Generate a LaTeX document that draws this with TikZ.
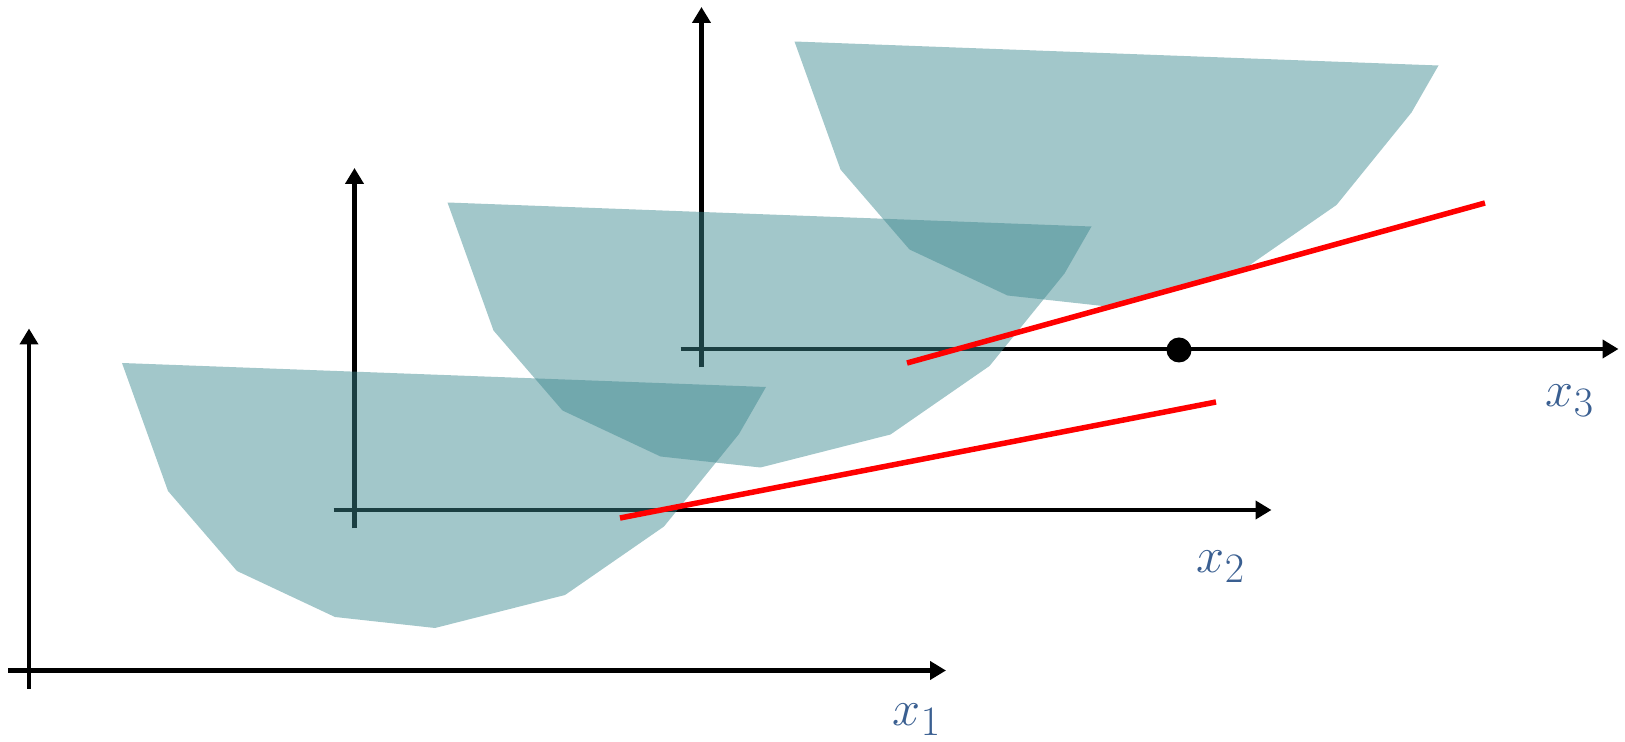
\documentclass[tikz,border=0pt]{standalone}
\usepackage{graphicx}
\usetikzlibrary{arrows.meta}
\definecolor{sheetteal}{RGB}{58,135,142}
\definecolor{labelblue}{RGB}{58,95,145}
\newcommand{\axname}[1]{\scalebox{1.15}{$#1$}}

\begin{document}
\begin{tikzpicture}[x=0.2mm, y=-0.2mm,
    axis/.style={line width=0.9mm, -{Triangle[length=3.2mm, width=3.6mm]}},
    sheet/.style={fill=sheetteal, fill opacity=0.47},
    cutline/.style={red, line width=1.1mm},
    axlabel/.style={text=labelblue, font=\Huge}]
  \useasboundingbox (0,0) rectangle (1625,742);
  % axes of the three slices
  \foreach \ox/\oy in {29/670.5, 354.5/510, 701.5/349} {
    \draw[axis] (\ox,\oy+18.5) -- (\ox,\oy-342);
    \draw[axis] (\ox-21,\oy) -- (\ox+917,\oy);
  }
  % shaded sets, same shape shifted
  \foreach \ox/\oy in {29/670.5, 354.5/510, 701.5/349} {
    \begin{scope}[shift={(\ox,\oy)}]
      \fill[sheet] (93,-307.5) -- (737,-283.5) -- (710,-236.5) -- (635,-144)
        -- (536,-75.5) -- (406,-42.5) -- (306,-53.5) -- (208,-99.5)
        -- (139,-179.5) -- cycle;
    \end{scope}
  }
  % red lines
  \draw[cutline] (620,518) -- (1216,402);
  \draw[cutline] (907,363) -- (1485,203);
  \node[circle, fill=black, inner sep=0pt, minimum size=5mm] (pt) at (1179,350) {};
  % labels
  \node[axlabel] (labA) at (917,720) {\axname{x_1}};
  \node[axlabel] (labB) at (1221,567) {\axname{x_2}};
  \node[axlabel] (labC) at (1570,401) {\axname{x_3}};
\end{tikzpicture}
\end{document}
